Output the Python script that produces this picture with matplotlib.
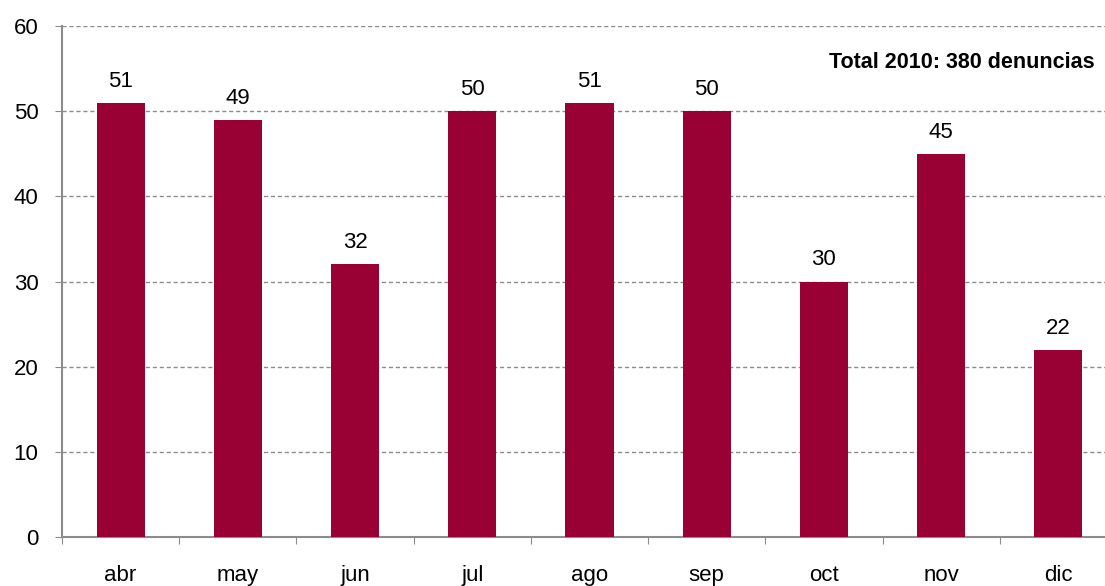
import matplotlib

matplotlib.use("Agg")
import matplotlib.pyplot as plt
import numpy as np

months = ["abr", "may", "jun", "jul", "ago", "sep", "oct", "nov", "dic"]
denuncias = [51, 49, 32, 50, 51, 50, 30, 45, 22]
y_ticks = [0, 10, 20, 30, 40, 50, 60]

BAR_COLOR = "#990033"
AXIS_GRAY = "#8c8c8c"

plt.rcParams["font.family"] = ["Liberation Sans", "DejaVu Sans"]

fig = plt.figure(figsize=(11.05, 5.86), dpi=100)
ax = fig.add_axes([62 / 1105, 49 / 586, 1055 / 1105, 511 / 586])

x = np.arange(len(months))
ax.bar(x, denuncias, width=0.41, color=BAR_COLOR, zorder=3)

for xi, v in zip(x, denuncias):
    ax.annotate(str(v), (xi, v), xytext=(0, 8), textcoords="offset points",
                ha="center", va="bottom", fontsize=16)

ax.set_xlim(-0.5, len(months) - 0.5)
ax.set_ylim(0, 60)
ax.set_yticks(y_ticks)
ax.set_yticklabels([str(t) for t in y_ticks], fontsize=16)

# ticks on category boundaries, labels centred under bars
ax.set_xticks(np.arange(-0.5, len(months) + 0.5, 1.0))
ax.set_xticklabels([])
ax.set_xticks(x, minor=True)
ax.set_xticklabels(months, minor=True, fontsize=16)
ax.tick_params(axis="x", which="minor", length=0, pad=20)
ax.tick_params(axis="x", which="major", length=5, color=AXIS_GRAY, direction="out")
ax.tick_params(axis="y", length=5, color=AXIS_GRAY, pad=12)

ax.grid(axis="y", linestyle=(0, (3, 2)), color=AXIS_GRAY, linewidth=1.0, zorder=0)
for side in ["top", "right"]:
    ax.spines[side].set_visible(False)
for side in ["left", "bottom"]:
    ax.spines[side].set_color(AXIS_GRAY)
    ax.spines[side].set_linewidth(1.5)

fig.text(1095 / 1105, 1 - 63 / 586, "Total 2010: 380 denuncias", ha="right", va="center",
         fontsize=15.5, fontweight="bold")

fig.savefig("out.png", dpi=100)
